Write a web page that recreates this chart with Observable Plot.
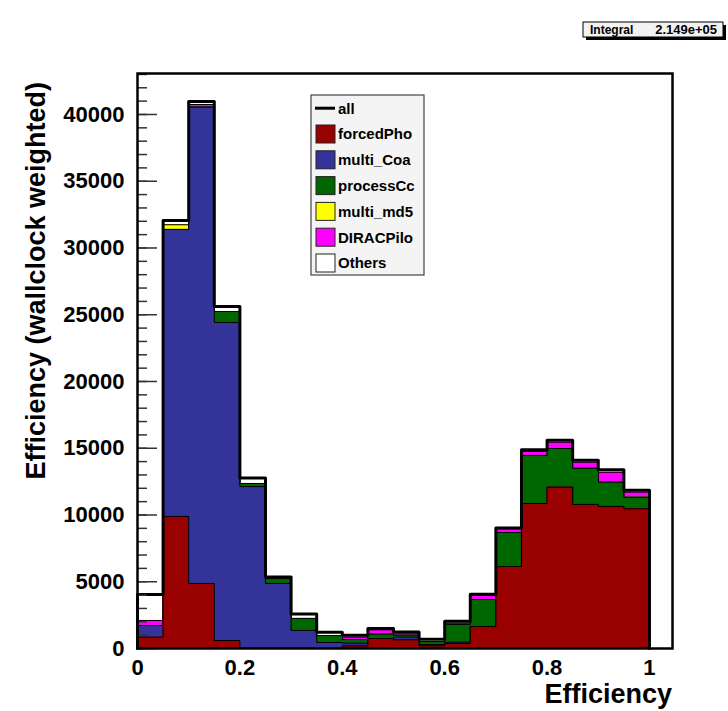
<!DOCTYPE html>
<html><head><meta charset="utf-8">
<script src="https://cdn.jsdelivr.net/npm/d3@7"></script>
<script src="https://cdn.jsdelivr.net/npm/@observablehq/plot@0.6"></script>
<style>body{margin:0;background:#fff;} #chart{width:728px;height:711px;}</style>
</head><body><div id="chart"></div>
<script>
// ---- data ----
const binLow = [0, 0.05, 0.1, 0.15, 0.2, 0.25, 0.3, 0.35, 0.4, 0.45, 0.5, 0.55, 0.6, 0.65, 0.7, 0.75, 0.8, 0.85, 0.9, 0.95];
const binWidth = 0.05;
const forcedPho = [850, 9890, 4870, 600, 0, 0, 0, 0, 200, 750, 650, 200, 370, 1650, 6140, 10860, 12080, 10790, 10640, 10460];
const multiCoa  = [870, 21500, 35680, 23820, 12130, 4870, 1350, 450, 200, 0, 200, 100, 100, 0, 0, 0, 0, 0, 0, 0];
const processCc = [0, 0, 0, 820, 230, 370, 900, 520, 270, 330, 150, 220, 1330, 2020, 2550, 3600, 2900, 2710, 1820, 870];
const multiMd5  = [0, 350, 0, 0, 0, 0, 0, 0, 0, 0, 0, 0, 0, 0, 0, 0, 0, 0, 0, 0];
const diracPilo = [380, 0, 200, 0, 0, 0, 0, 0, 180, 320, 170, 0, 100, 300, 280, 300, 470, 450, 740, 380];
const others    = [1950, 320, 220, 380, 410, 120, 330, 250, 150, 100, 70, 170, 150, 90, 60, 130, 150, 150, 190, 140];
const seriesNames  = ["forcedPho", "multi_Coa", "processCc", "multi_md5", "DIRACPilo", "Others"];
const seriesColors = ["#990000", "#333399", "#006600", "#ffff00", "#ff00ff", "#ffffff"];
const seriesValues = [forcedPho, multiCoa, processCc, multiMd5, diracPilo, others];
const yMajorTicks = [0, 5000, 10000, 15000, 20000, 25000, 30000, 35000, 40000];
const yMinorTicks = d3.range(0, 43001, 1000);
const xTicks = [0, 0.2, 0.4, 0.6, 0.8, 1];
const xTitle = "Efficiency";
const yTitle = "Efficiency (wallclock weighted)";
const integralLabel = "Integral";
const integralValue = "2.149e+05";

// ---- cumulative layers ----
const layers = seriesValues.map((s, k) =>
  binLow.map((x, i) => seriesValues.slice(0, k + 1).reduce((a, v) => a + v[i], 0)));
function stepPoints(vals) {
  const pts = [{x: binLow[0], y: 0}];
  binLow.forEach((x, i) => { pts.push({x, y: vals[i]}); pts.push({x: x + binWidth, y: vals[i]}); });
  pts.push({x: binLow[binLow.length - 1] + binWidth, y: 0});
  return pts;
}
const total = layers[layers.length - 1];

const marks = [];
for (let k = layers.length - 1; k >= 0; k--) {
  const pts = stepPoints(layers[k]);
  marks.push(Plot.area(pts, {x1: "x", y1: () => 0, y2: "y", fill: seriesColors[k]}));
  marks.push(Plot.line(pts, {x: "x", y: "y", stroke: "black", strokeWidth: 1}));
}
marks.push(Plot.line(stepPoints(total), {x: "x", y: "y", stroke: "black", strokeWidth: 3}));
marks.push(Plot.axisY(yMinorTicks, {anchor: "left", tickSize: -10, stroke: "#333", strokeWidth: 1.5, tickFormat: () => "", label: null}));
marks.push(Plot.axisY(yMajorTicks, {anchor: "left", tickSize: -20, stroke: "#333", strokeWidth: 1.5, tickFormat: () => "", label: null}));
marks.push(Plot.axisY(yMajorTicks, {anchor: "left", tickSize: 0, tickPadding: 13, fontSize: 22, fontWeight: "bold", fill: "black", tickFormat: d3.format("d"), label: null}));
marks.push(Plot.axisX(xTicks, {anchor: "bottom", tickSize: 0, tickPadding: 11, fontSize: 22, fontWeight: "bold", fill: "black", tickFormat: d => String(d), label: null}));
marks.push(Plot.frame({stroke: "black", strokeWidth: 2.5}));

const plot = Plot.plot({
  width: 728, height: 711,
  marginLeft: 137, marginRight: 56, marginTop: 73, marginBottom: 63,
  style: {fontFamily: "'Liberation Sans', Arial, sans-serif", background: "white", overflow: "visible"},
  x: {domain: [0, 1.045], axis: null},
  y: {domain: [0, 43070], axis: null},
  marks
});
document.getElementById("chart").appendChild(plot);

// ---- titles, legend, stats box ----
const svg = d3.select(plot);
const ff = "'Liberation Sans', Arial, sans-serif";
svg.append("text").attr("x", 672).attr("y", 703).attr("text-anchor", "end")
  .attr("font-family", ff).attr("font-weight", "bold").attr("font-size", 27).attr("fill", "black").text(xTitle);
svg.append("text").attr("transform", "translate(45,82) rotate(-90)").attr("text-anchor", "end")
  .attr("font-family", ff).attr("font-weight", "bold").attr("font-size", 27).attr("fill", "black").text(yTitle);

// legend
const lg = svg.append("g");
lg.append("rect").attr("x", 311).attr("y", 95).attr("width", 113).attr("height", 180)
  .attr("fill", "#f4f4f4").attr("stroke", "#444").attr("stroke-width", 1.2);
const rowY = k => 108.2 + 25.8 * k;
lg.append("line").attr("x1", 315).attr("x2", 335).attr("y1", rowY(0)).attr("y2", rowY(0))
  .attr("stroke", "black").attr("stroke-width", 3);
lg.append("text").attr("x", 338).attr("y", rowY(0) + 5.4).attr("text-anchor", "start").attr("font-family", ff).attr("font-weight", "bold")
  .attr("font-size", 15).attr("fill", "black").text("all");
seriesNames.forEach((name, k) => {
  const cy = rowY(k + 1);
  lg.append("rect").attr("x", 316).attr("y", cy - 9).attr("width", 19).attr("height", 18)
    .attr("fill", seriesColors[k]).attr("stroke", "#222").attr("stroke-width", 1);
  lg.append("text").attr("x", 338).attr("y", cy + 5.4).attr("text-anchor", "start").attr("font-family", ff).attr("font-weight", "bold")
    .attr("font-size", 15).attr("fill", "black").text(name);
});

// integral box
const ib = svg.append("g");
ib.append("rect").attr("x", 586).attr("y", 25).attr("width", 140).attr("height", 15).attr("fill", "black");
ib.append("rect").attr("x", 583).attr("y", 22).attr("width", 140).attr("height", 15)
  .attr("fill", "#f2f2f2").attr("stroke", "black").attr("stroke-width", 1);
ib.append("text").attr("x", 590).attr("y", 34).attr("text-anchor", "start").attr("font-family", ff).attr("font-weight", "bold")
  .attr("font-size", 12).attr("fill", "black").text(integralLabel);
ib.append("text").attr("x", 717).attr("y", 34).attr("text-anchor", "end").attr("font-family", ff).attr("font-weight", "bold")
  .attr("font-size", 13).attr("fill", "black").text(integralValue);
</script>
</body></html>
